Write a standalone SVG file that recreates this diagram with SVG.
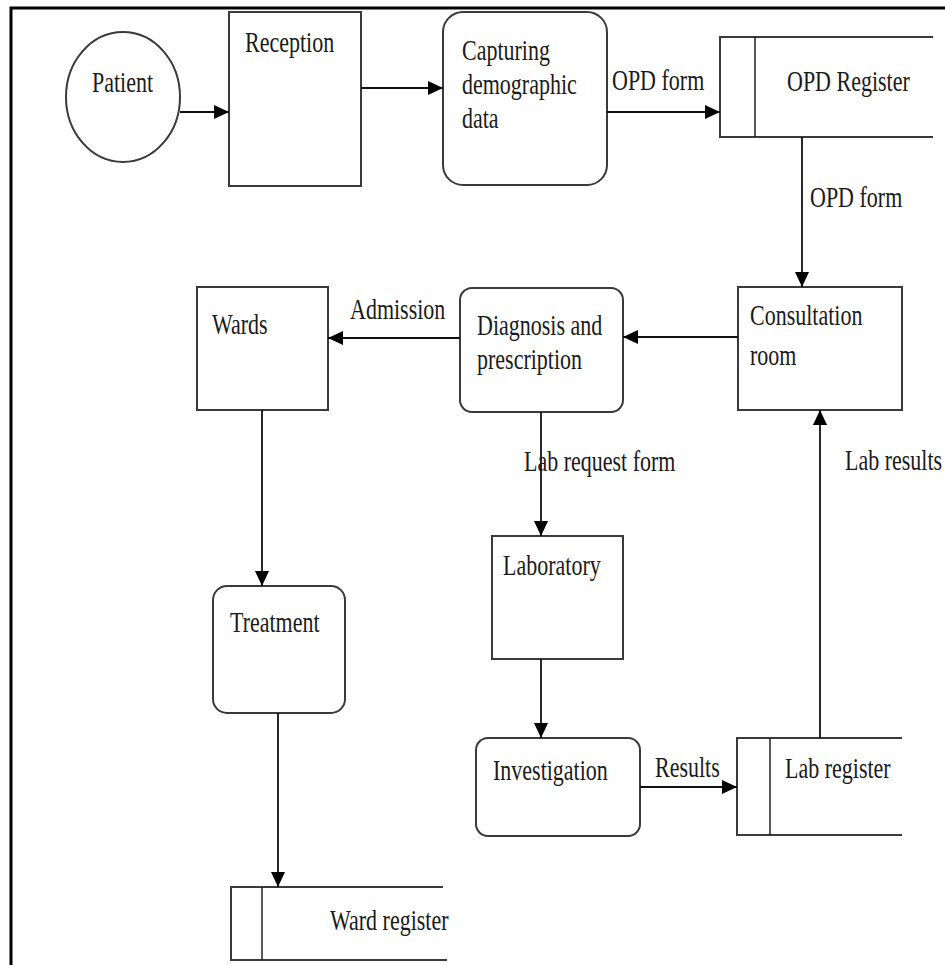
<svg xmlns="http://www.w3.org/2000/svg" width="945" height="965" viewBox="0 0 945 965">
<style>
.shape{fill:#fff;stroke:#3a3a3a;stroke-width:2}
.store{fill:none;stroke:#3a3a3a;stroke-width:2}
.store-inner{fill:none;stroke:#222;stroke-width:1.5}
.conn{fill:none;stroke:#111;stroke-width:1.8}
.lbl{font-family:"Liberation Serif","Times New Roman",serif;font-size:22px;fill:#1a1a1a}
.frame{fill:none;stroke:#000;stroke-width:3}
</style>
<defs>
<marker id="arr" markerUnits="userSpaceOnUse" markerWidth="16" markerHeight="14" refX="15" refY="7" orient="auto">
<path d="M0,0 L15,7 L0,14 Z" fill="#000"/>
</marker>
</defs>
<rect width="945" height="965" fill="#fff"/>
<path class="frame" d="M11,965 L11,8 L945,8"/>

<g id="patient">
<ellipse class="shape" cx="123" cy="97" rx="57" ry="65"/>
<text class="lbl" transform="translate(92,92) scale(1,1.35)">Patient</text>
</g>
<g id="reception">
<rect class="shape" x="229" y="12" width="132" height="174"/>
<text class="lbl" transform="translate(245,52) scale(1,1.35)">Reception</text>
</g>
<g id="capturing">
<rect class="shape" x="443" y="12" width="164" height="173" rx="20"/>
<text class="lbl" transform="translate(462,60) scale(1,1.35)">Capturing</text>
<text class="lbl" transform="translate(462,94) scale(1,1.35)">demographic</text>
<text class="lbl" transform="translate(462,128) scale(1,1.35)">data</text>
</g>
<g id="opd-register">
<path class="store" d="M933,37 L720,37 L720,137 L933,137"/>
<path class="store-inner" d="M755,37 L755,137"/>
<text class="lbl" transform="translate(787,91) scale(1,1.35)">OPD Register</text>
</g>
<g id="wards">
<rect class="shape" x="197" y="287" width="131" height="123"/>
<text class="lbl" transform="translate(212,334) scale(1,1.35)">Wards</text>
</g>
<g id="diagnosis">
<rect class="shape" x="460" y="288" width="163" height="124" rx="12"/>
<text class="lbl" transform="translate(477,335) scale(1,1.35)">Diagnosis and</text>
<text class="lbl" transform="translate(477,369) scale(1,1.35)">prescription</text>
</g>
<g id="consultation">
<rect class="shape" x="738" y="287" width="164" height="123"/>
<text class="lbl" transform="translate(750,325) scale(1,1.35)">Consultation</text>
<text class="lbl" transform="translate(750,365) scale(1,1.35)">room</text>
</g>
<g id="laboratory">
<rect class="shape" x="492" y="536" width="131" height="123"/>
<text class="lbl" transform="translate(503,575) scale(1,1.35)">Laboratory</text>
</g>
<g id="treatment">
<rect class="shape" x="213" y="586" width="132" height="127" rx="14"/>
<text class="lbl" transform="translate(230,632) scale(1,1.35)">Treatment</text>
</g>
<g id="investigation">
<rect class="shape" x="476" y="738" width="164" height="98" rx="12"/>
<text class="lbl" transform="translate(493,780) scale(1,1.35)">Investigation</text>
</g>
<g id="lab-register">
<path class="store" d="M902,738 L737,738 L737,835 L902,835"/>
<path class="store-inner" d="M770,738 L770,835"/>
<text class="lbl" transform="translate(785,778) scale(1,1.35)">Lab register</text>
</g>
<g id="ward-register">
<path class="store" d="M443,887 L231,887 L231,960 L447,960"/>
<path class="store-inner" d="M262,887 L262,960"/>
<text class="lbl" transform="translate(330,930) scale(1,1.35)">Ward register</text>
</g>

<g id="connectors">
<path class="conn" marker-end="url(#arr)" d="M180,112 L229,112"/>
<path class="conn" marker-end="url(#arr)" d="M361,88 L443,88"/>
<path class="conn" marker-end="url(#arr)" d="M607,112 L720,112"/>
<path class="conn" marker-end="url(#arr)" d="M802,137 L802,287"/>
<path class="conn" marker-end="url(#arr)" d="M738,337 L623,337"/>
<path class="conn" marker-end="url(#arr)" d="M460,338 L328,338"/>
<path class="conn" marker-end="url(#arr)" d="M541,412 L541,536"/>
<path class="conn" marker-end="url(#arr)" d="M262,410 L262,586"/>
<path class="conn" marker-end="url(#arr)" d="M541,659 L541,738"/>
<path class="conn" marker-end="url(#arr)" d="M640,787 L737,787"/>
<path class="conn" marker-end="url(#arr)" d="M820,738 L820,410"/>
<path class="conn" marker-end="url(#arr)" d="M278,713 L278,887"/>
<text class="lbl" transform="translate(612,90) scale(1,1.35)">OPD form</text>
<text class="lbl" transform="translate(810,207) scale(1,1.35)">OPD form</text>
<text class="lbl" transform="translate(350,319) scale(1,1.35)">Admission</text>
<text class="lbl" transform="translate(524,471) scale(1,1.35)">Lab request form</text>
<text class="lbl" transform="translate(845,470) scale(1,1.35)">Lab results</text>
<text class="lbl" transform="translate(655,777) scale(1,1.35)">Results</text>
</g>
</svg>
